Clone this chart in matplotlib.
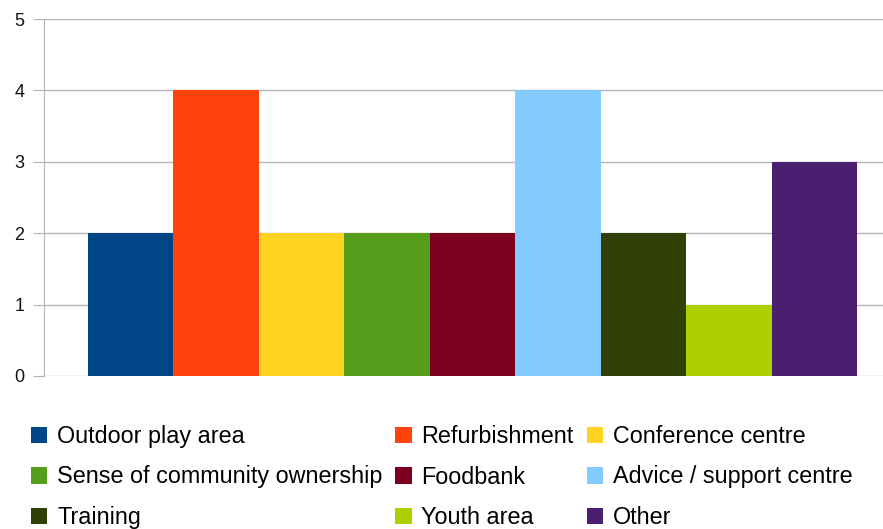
import matplotlib.pyplot as plt
import numpy as np

plt.rcParams['font.family'] = ['Liberation Sans', 'DejaVu Sans']

labels = ['Outdoor play area', 'Refurbishment', 'Conference centre',
          'Sense of community ownership', 'Foodbank', 'Advice / support centre',
          'Training', 'Youth area', 'Other']
counts = [2, 4, 2, 2, 2, 4, 2, 1, 3]
colors = ['#004586', '#ff420e', '#ffd320', '#579d1c', '#7e0021',
          '#83caff', '#314004', '#aecf00', '#4b1f6f']

fig = plt.figure(figsize=(8.83, 5.29), dpi=100)
W, H = 883, 529
ax = fig.add_axes([44 / W, 1 - 376 / H, (883 - 44) / W, (376 - 19) / H])

x_ind = np.arange(len(counts))
bars = []
for i in x_ind:
    b = ax.bar(i, counts[i], width=1.0, color=colors[i], label=labels[i], zorder=3)
    bars.append(b)

ax.set_xlim(-1.015, 8.804)
ax.set_ylim(0, 5)
ax.set_yticks(range(6))
ax.set_xticks([])
ax.grid(axis='y', color='#b3b3b3', linewidth=1.0, zorder=0)

for s in ['top', 'right', 'bottom']:
    ax.spines[s].set_visible(False)
ax.spines['left'].set_color('#b3b3b3')
ax.tick_params(axis='y', length=8, color='#b3b3b3', labelsize=13, pad=6,
               labelcolor='#111111')

# legend fills column by column, so reorder to read row by row
order = [0, 3, 6, 1, 4, 7, 2, 5, 8]
handles = [bars[i] for i in order]
leg_labels = [labels[i] for i in order]
fig.legend(handles, leg_labels, ncol=3, loc='upper left',
           bbox_to_anchor=(31 / W, 1 - 425 / H), frameon=False,
           fontsize=16.8, handlelength=0.7, handleheight=0.7,
           handletextpad=0.42, columnspacing=0.55, labelspacing=0.75,
           borderpad=0, borderaxespad=0)

fig.savefig('out.png', dpi=100)
